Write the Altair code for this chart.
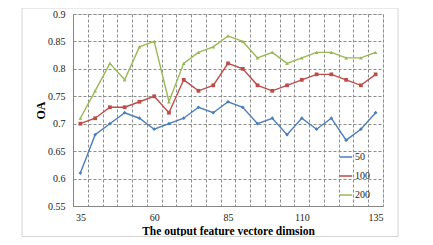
import altair as alt
import pandas as pd

dims = [35, 40, 45, 50, 55, 60, 65, 70, 75, 80, 85, 90, 95, 100, 105, 110, 115, 120, 125, 130, 135]
s50 = [0.61, 0.68, 0.70, 0.72, 0.71, 0.69, 0.70, 0.71, 0.73, 0.72, 0.74, 0.73, 0.70, 0.71, 0.68, 0.71, 0.69, 0.71, 0.67, 0.69, 0.72]
s100 = [0.70, 0.71, 0.73, 0.73, 0.74, 0.75, 0.72, 0.78, 0.76, 0.77, 0.81, 0.80, 0.77, 0.76, 0.77, 0.78, 0.79, 0.79, 0.78, 0.77, 0.79]
s200 = [0.71, 0.76, 0.81, 0.78, 0.84, 0.85, 0.74, 0.81, 0.83, 0.84, 0.86, 0.85, 0.82, 0.83, 0.81, 0.82, 0.83, 0.83, 0.82, 0.82, 0.83]
series_names = ["50", "100", "200"]
colors = ["#4A7EBB", "#BE4B48", "#98B954"]
shapes = ["diamond", "square", "triangle-up"]
x_labels = [35, 60, 85, 110, 135]
y_ticks = [0.55, 0.6, 0.65, 0.7, 0.75, 0.8, 0.85, 0.9]

rows = []
for name, vals in zip(series_names, [s50, s100, s200]):
    for d, v in zip(dims, vals):
        rows.append({"dim": d, "OA": v, "series": name})
df = pd.DataFrame(rows)

# category boundaries (Excel-style category axis gridlines)
step = dims[1] - dims[0]
x_bounds = [d - step / 2 for d in dims] + [dims[-1] + step / 2]

FONT = "Liberation Serif"
GRID = "#8c8c8c"

xscale = alt.Scale(domain=[x_bounds[0], x_bounds[-1]], nice=False, zero=False)
yscale = alt.Scale(domain=[0.55, 0.9], nice=False, zero=False)
cscale = alt.Scale(domain=series_names, range=colors)

yaxis = alt.Axis(values=y_ticks, format="~g", grid=True, gridDash=[3, 2], gridColor=GRID,
                 gridOpacity=1, ticks=False, domainColor="#868686", labelFont=FONT,
                 labelFontSize=10, labelColor="#222", labelPadding=8, title="OA",
                 titleFont=FONT, titleFontSize=12, titleFontWeight="bold", titleColor="#000",
                 titlePadding=0)

base = alt.Chart(df)

lines = base.mark_line(strokeWidth=1.4).encode(
    x=alt.X("dim:Q", scale=xscale,
            axis=alt.Axis(values=x_labels, grid=False, ticks=False, domainColor="#868686",
                          labelFont=FONT, labelFontSize=10, labelColor="#222", labelPadding=6,
                          title="The output feature vectore dimsion", titleFont=FONT,
                          titleFontSize=11.5, titleFontWeight="bold", titleColor="#000",
                          titlePadding=3)),
    y=alt.Y("OA:Q", scale=yscale, axis=yaxis),
    color=alt.Color("series:N", scale=cscale,
                    legend=alt.Legend(title=None, orient="none", legendX=266, legendY=136,
                                      symbolType="stroke", symbolSize=150, symbolStrokeWidth=1.5,
                                      labelFont=FONT, labelFontSize=10, labelColor="#222",
                                      rowPadding=7, labelOffset=2, padding=0)),
)

point_layers = []
for name, col, shp in zip(series_names, colors, shapes):
    point_layers.append(
        base.transform_filter(alt.datum.series == name)
        .mark_point(filled=True, size=14, opacity=1, color=col, shape=shp)
        .encode(x=alt.X("dim:Q", scale=xscale, axis=None),
                y=alt.Y("OA:Q", scale=yscale, axis=yaxis))
    )

grid = alt.Chart(pd.DataFrame({"b": x_bounds})).mark_point(opacity=0).encode(
    x=alt.X("b:Q", scale=xscale,
            axis=alt.Axis(values=x_bounds, orient="top", labels=False, ticks=False,
                          domain=False, grid=True, gridDash=[3, 2], gridColor=GRID,
                          gridOpacity=1, title=None)),
)

frame = alt.Chart(alt.Data(values=[{}])).mark_rect(
    fill=None, stroke="#d4d4d4", strokeWidth=1, clip=False
).encode(x=alt.value(-51), x2=alt.value(325), y=alt.value(-6), y2=alt.value(222.5))

chart = alt.layer(grid, lines, *point_layers, frame).resolve_axis(x="independent").properties(
    width=310, height=192,
    autosize=alt.AutoSizeParams(type="none"),
    padding={"left": 65, "top": 6, "right": 42, "bottom": 31},
).configure_view(stroke=None).configure(background="white")

chart.save("out.html", embed_options={"renderer": "svg", "actions": False})
